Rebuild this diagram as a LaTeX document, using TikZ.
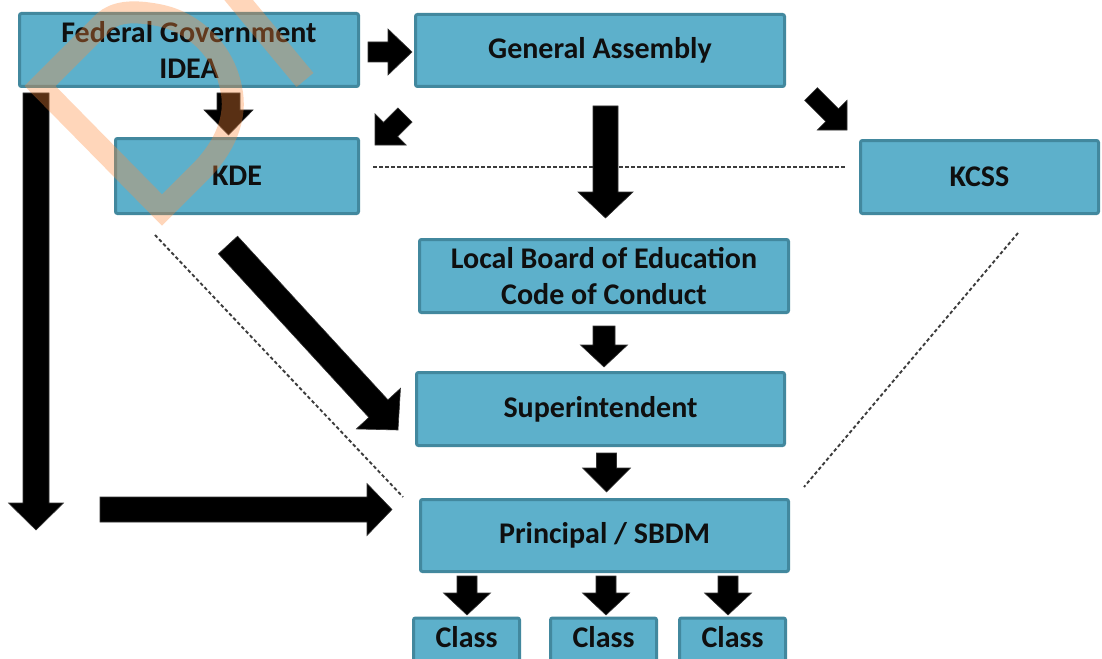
\documentclass[tikz,border=0pt]{standalone}
\usepackage{fontspec}
\setmainfont{Carlito}
\usetikzlibrary{calc}

\definecolor{boxfill}{RGB}{93,176,203}
\definecolor{boxline}{RGB}{66,136,158}
\definecolor{inktext}{RGB}{15,15,15}
\definecolor{dotgray}{RGB}{60,60,60}
\definecolor{emblem}{RGB}{255,140,60}

\tikzset{
  stage/.style={draw=boxline, fill=boxfill, line width=3pt, rounded corners=2pt,
    text=inktext, font=\bfseries\fontsize{30}{36}\selectfont, align=center, inner sep=0pt},
  classbox/.style={stage, text height=20pt, text depth=12pt},
  link/.style={draw=dotgray, line width=1.9pt, dash pattern=on 3.5pt off 2.5pt},
  arrowfill/.style={fill=black, draw=black!80, line width=0.6pt, line join=miter},
  emblemband/.style={draw=emblem, opacity=0.35, line width=22pt, line join=miter},
}

% block arrow: #1 tail, #2 tip, #3 shaft half width, #4 head half width, #5 head length
\newcommand\blockarrow[5]{%
  \coordinate (ba-h) at ($(#2)!#5!(#1)$);
  \path[arrowfill] ($(#1)!#3!90:(#2)$) -- ($(ba-h)!#3!-90:(#1)$) -- ($(ba-h)!#4!-90:(#1)$)
    -- (#2) -- ($(ba-h)!#4!90:(#1)$) -- ($(ba-h)!#3!90:(#1)$) -- ($(#1)!#3!-90:(#2)$) -- cycle;
}

\begin{document}
\begin{tikzpicture}[x=1pt,y=-1pt]
\useasboundingbox (0,0) rectangle (1102,658);
\clip (0,0) rectangle (1102,658);
\fill[white] (0,0) rectangle (1102,658);

% boxes
\node[stage, minimum width=339pt, minimum height=73pt] (fed)  at (189,50)    {Federal Government\\IDEA};
\node[stage, minimum width=369pt, minimum height=72pt] (ga)   at (600,50.5)  {General Assembly};
\node[stage, minimum width=243pt, minimum height=75pt] (kde)  at (237,176)   {KDE};
\node[stage, minimum width=238pt, minimum height=73pt] (kcss) at (979.5,177) {KCSS};
\node[stage, minimum width=369pt, minimum height=73pt] (lbe)  at (604,276)   {Local Board of Education\\Code of Conduct};
\node[stage, minimum width=368pt, minimum height=73pt] (sup)  at (600.5,409) {Superintendent};
\node[stage, minimum width=368pt, minimum height=72pt] (pri)  at (604.5,535.5) {Principal / SBDM};
\node[classbox, minimum width=106pt, minimum height=50pt] (c1) at (466.5,643) {Class};
\node[classbox, minimum width=106pt, minimum height=50pt] (c2) at (603.5,643) {Class};
\node[classbox, minimum width=106pt, minimum height=50pt] (c3) at (732.5,643) {Class};

% dotted relations
\coordinate (kdeR)  at (373,167);
\coordinate (kcssL) at (845,167);
\coordinate (kdeB)  at (155,235);
\coordinate (priL)  at (403,497);
\coordinate (kcssB) at (1018,233);
\coordinate (priR)  at (804,487);
\draw[link] (kdeR) -- (kcssL);
\draw[link] (kdeB) -- (priL);
\draw[link] (kcssB) -- (priR);

% block arrows
\coordinate (a1s) at (368,52);    \coordinate (a1e) at (412,52);
\coordinate (a2s) at (228.5,93);  \coordinate (a2e) at (228.5,135);
\coordinate (a3s) at (405,115);   \coordinate (a3e) at (375,145);
\coordinate (a4s) at (811,94);    \coordinate (a4e) at (847,130);
\coordinate (a5s) at (605.5,106); \coordinate (a5e) at (605.5,218);
\coordinate (a6s) at (604,326);   \coordinate (a6e) at (604,367);
\coordinate (a7s) at (606.5,453); \coordinate (a7e) at (606.5,492);
\coordinate (a8s) at (467,576);   \coordinate (a8e) at (467,615);
\coordinate (a9s) at (606,576);   \coordinate (a9e) at (606,615);
\coordinate (a10s) at (728,576);  \coordinate (a10e) at (728,615);
\coordinate (a11s) at (228,245);  \coordinate (a11e) at (398,430);
\coordinate (a12s) at (36,93);    \coordinate (a12e) at (36,530);
\coordinate (a13s) at (100,509.5);\coordinate (a13e) at (392,509.5);

\blockarrow{a1s}{a1e}{10pt}{23pt}{24pt}
\blockarrow{a2s}{a2e}{11.5pt}{24.5pt}{25pt}
\blockarrow{a3s}{a3e}{10pt}{22pt}{22pt}
\blockarrow{a4s}{a4e}{9pt}{21pt}{21pt}
\blockarrow{a5s}{a5e}{12.5pt}{27.5pt}{26pt}
\blockarrow{a6s}{a6e}{11pt}{23.5pt}{22pt}
\blockarrow{a7s}{a7e}{10pt}{24pt}{24pt}
\blockarrow{a8s}{a8e}{10pt}{23.5pt}{22pt}
\blockarrow{a9s}{a9e}{10pt}{23.5pt}{22pt}
\blockarrow{a10s}{a10e}{10pt}{23.5pt}{22pt}
\blockarrow{a11s}{a11e}{13pt}{30pt}{29pt}
\blockarrow{a12s}{a12e}{13pt}{27.5pt}{27pt}
\blockarrow{a13s}{a13e}{12.5pt}{26pt}{25pt}

% translucent orange emblem
\draw[emblemband] (40,86) -- (162,210) -- (200,172)
  .. controls (224,148) and (238,118) .. (231,88)
  .. controls (224,52) and (195,22) .. (158,15)
  .. controls (132,10) and (115,12) .. (104,22) -- cycle;
\draw[emblemband] (232,-8) -- (305,80);
\end{tikzpicture}
\end{document}
